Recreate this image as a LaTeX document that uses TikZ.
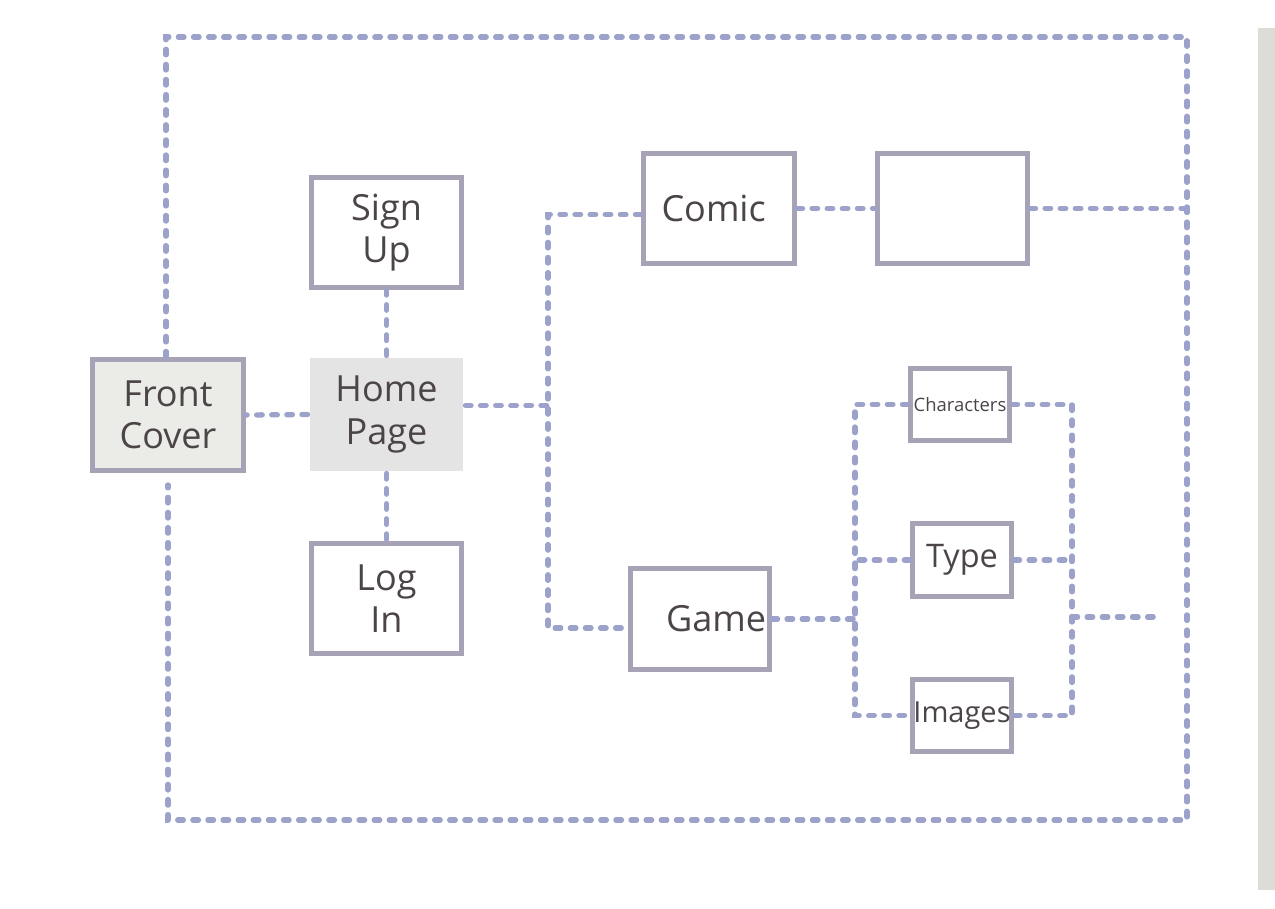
\documentclass[tikz,border=0pt]{standalone}
\usepackage{fontspec}
\setmainfont{Open Sans}
\usetikzlibrary{calc}

\definecolor{boxline}{HTML}{A8A2B6}
\definecolor{linkblue}{HTML}{9CA2CA}
\definecolor{inkgray}{HTML}{4B4547}
\definecolor{frontfill}{HTML}{EBEBE8}
\definecolor{homefill}{HTML}{E5E4E5}
\definecolor{stripgray}{HTML}{DCDDD7}

\tikzset{
    pagebox/.style={draw=boxline, line width=2.8pt, fill=white, text=inkgray, align=center,
        inner sep=0pt, font=\fontsize{20.5}{24}\selectfont},
    link/.style={draw=linkblue, line width=3pt, dash pattern=on 3.2pt off 5.4pt, line cap=round}
}

\begin{document}
\begin{tikzpicture}[x=0.02cm, y=-0.02cm]
    \useasboundingbox (0,0) rectangle (1275,909);
    \fill[stripgray] (1258,28) rectangle (1275,890);

    \node[pagebox, fill=frontfill, minimum width=3.02cm, minimum height=2.22cm] (front) at (168,415) {Front\\Cover};
    \node[pagebox, draw=none, fill=homefill, minimum width=3.06cm, minimum height=2.26cm] (home) at (386.5,414.5) {Home\\Page};
    \node[pagebox, minimum width=3.0cm, minimum height=2.2cm] (signup) at (386.5,232.5) {Sign\\Up};
    \node[pagebox, minimum width=3.0cm, minimum height=2.2cm] (login) at (386.5,598.5) {Log\\In};

    \node[pagebox, minimum width=3.02cm, minimum height=2.2cm, text width=2.8cm, align=left] (comic) at (719,208.5) {\hspace{0.25cm}Comic};
    \node[pagebox, minimum width=3.0cm, minimum height=2.2cm] (blank) at (952.5,208.5) {};
    \node[pagebox, minimum width=2.78cm, minimum height=2.02cm, text width=2.64cm, align=right] (game) at (700,619) {Game};

    \node[pagebox, minimum width=1.98cm, minimum height=1.44cm, font=\fontsize{10.5}{12}\selectfont] (chars) at (960,404.5) {Characters};
    \node[pagebox, minimum width=1.98cm, minimum height=1.46cm, font=\fontsize{18.5}{22}\selectfont] (type) at (962,560) {Type};
    \node[pagebox, minimum width=1.98cm, minimum height=1.44cm, font=\fontsize{16.5}{19}\selectfont] (images) at (962,715.5) {Images};

    \coordinate (busA) at (548,0);
    \coordinate (busB) at (855,0);
    \coordinate (busC) at (1072,0);
    \coordinate (tl) at (166,37);
    \coordinate (br) at (1187,820);
    \coordinate (stub) at (1157,617);

    \draw[link] (home.west) -- (front.east);
    \draw[link] (home.north) -- (signup.south);
    \draw[link] (home.south) -- (login.north);

    \draw[link] ([yshift=0.18cm]home.east) -- ([yshift=0.18cm]home.east -| busA);
    \draw[link] ([yshift=-0.12cm]comic.west) -- ([yshift=-0.12cm]comic.west -| busA) -- ([yshift=-0.18cm]game.west -| busA) -- ([yshift=-0.18cm]game.west);
    \draw[link] (comic.east) -- (blank.west);
    \draw[link] (blank.east) -- (blank.east -| br);

    \draw[link] (game.east) -- (game.east -| busB);
    \draw[link] (chars.west) -- (chars.west -| busB) -- (images.west -| busB) -- (images.west);
    \draw[link] (type.west) -- (type.west -| busB);

    \draw[link] (chars.east) -- (chars.east -| busC) -- (images.east -| busC) -- (images.east);
    \draw[link] (type.east) -- (type.east -| busC);
    \draw[link] (stub -| busC) -- (stub);

    \draw[link] (front.north -| tl) -- (tl) -- (tl -| br) -- (br) -- (br -| front.south) -- ([yshift=-0.24cm]front.south);
\end{tikzpicture}
\end{document}
